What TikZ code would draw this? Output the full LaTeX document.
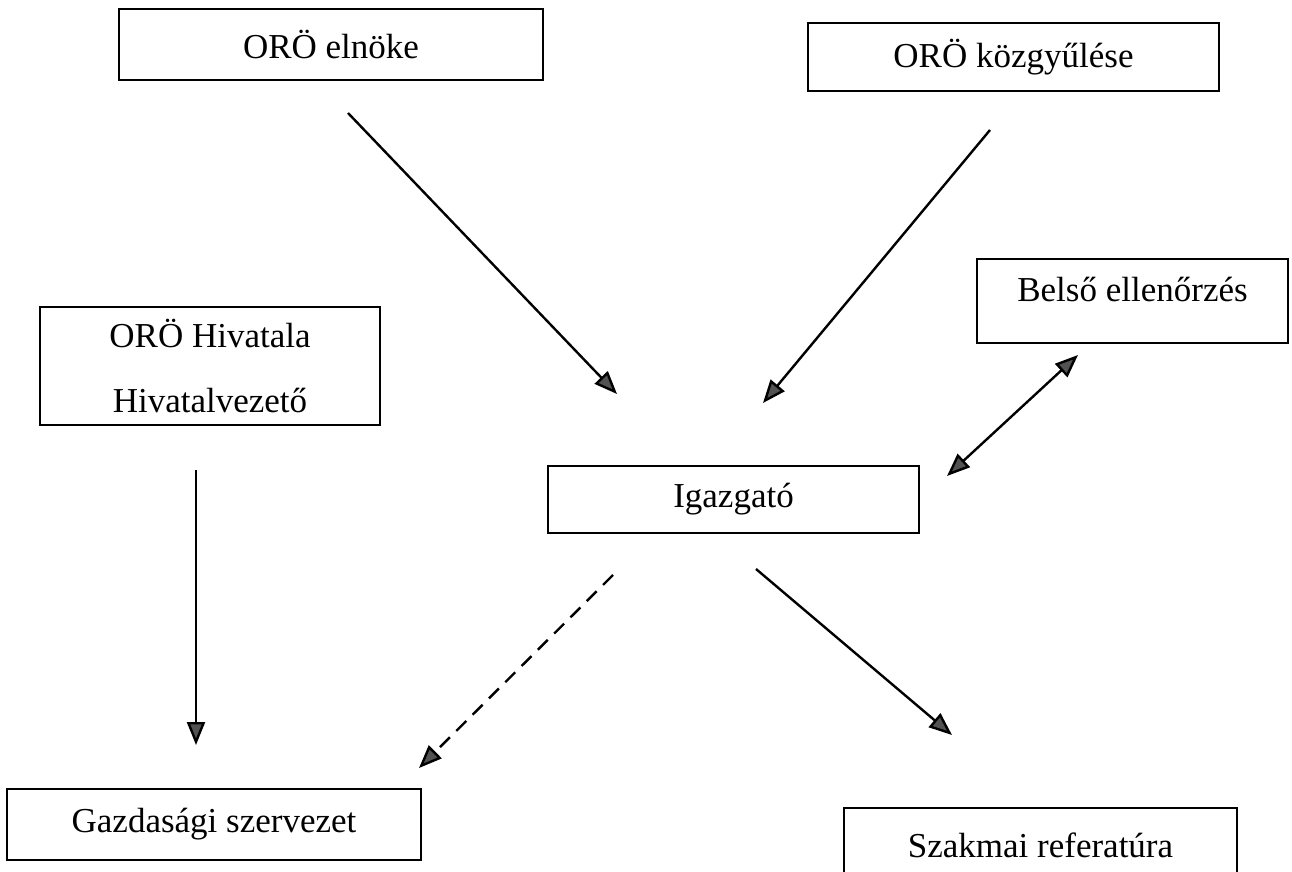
\documentclass[tikz,border=0pt]{standalone}
\usepackage{fontspec}
\setmainfont{Liberation Serif}
\usetikzlibrary{arrows.meta}

\begin{document}
\begin{tikzpicture}[x=1pt, y=-1pt,
		box/.style={draw, line width=1.8pt, align=center,
			font=\fontsize{35}{65}\selectfont},
		arr/.style={line width=2.4pt,
			-{Triangle[length=23pt, width=18pt, fill=black!68]}},
		darr/.style={arr, {Triangle[length=23pt, width=18pt, fill=black!68]}-{Triangle[length=23pt, width=18pt, fill=black!68]}}]
		\useasboundingbox (0,0) rectangle (1292,872);

		% boxes
		\node[box, minimum width=424pt, minimum height=71pt] (elnoke) at (331,44.5) {ORÖ elnöke};
		\node[box, minimum width=411pt, minimum height=68pt] (kozgyules) at (1013.5,57) {ORÖ közgyűlése};
		\node[box, minimum width=311pt, minimum height=84pt, text depth=24pt] (belso) at (1132.5,301) {Belső ellenőrzés};
		\node[box, minimum width=340pt, minimum height=118pt] (hivatal) at (210,366) {ORÖ Hivatala\\Hivatalvezető};
		\node[box, minimum width=371pt, minimum height=67pt] (igazgato) at (733.5,499.5) {Igazgató};
		\node[box, minimum width=414pt, minimum height=71pt] (gazdasagi) at (214,824.5) {Gazdasági szervezet};
		\node[box, minimum width=393pt, minimum height=74pt] (szakmai) at (1040.5,845) {Szakmai referatúra};

		% free arrow ends
		\coordinate (elnoke-out) at (348,113);
		\coordinate (igazgato-in1) at (617,394);
		\coordinate (kozgyules-out) at (990,130);
		\coordinate (igazgato-in2) at (763,403);
		\coordinate (igazgato-belso) at (947,476);
		\coordinate (belso-in) at (1078,355);
		\coordinate (hivatal-out) at (196,470);
		\coordinate (gazdasagi-in1) at (196,745);
		\coordinate (igazgato-out1) at (613,575);
		\coordinate (gazdasagi-in2) at (419,768);
		\coordinate (igazgato-out2) at (756,569);
		\coordinate (szakmai-in) at (952,735);

		% arrows
		\draw[arr] (elnoke-out) -- (igazgato-in1);
		\draw[arr] (kozgyules-out) -- (igazgato-in2);
		\draw[darr] (igazgato-belso) -- (belso-in);
		\draw[arr] (hivatal-out) -- (gazdasagi-in1);
		\draw[arr, dash pattern=on 14pt off 9pt] (igazgato-out1) -- (gazdasagi-in2);
		\draw[arr] (igazgato-out2) -- (szakmai-in);
	\end{tikzpicture}
\end{document}
